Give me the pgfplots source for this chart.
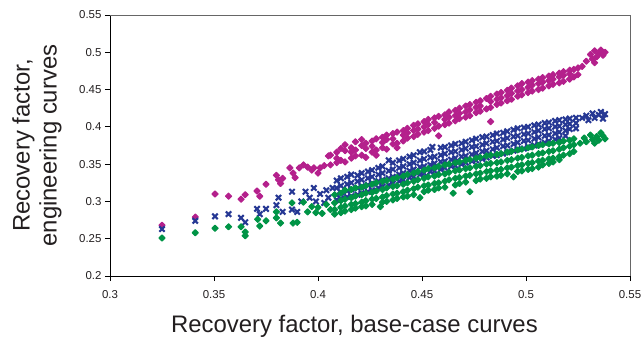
\documentclass[border=0pt]{standalone}
\usepackage{fontspec}
\setmainfont{Liberation Sans}
\usepackage{pgfplots}
\pgfplotsset{compat=1.18}
\definecolor{cmag}{RGB}{180,32,140}
\definecolor{cblue}{RGB}{38,56,148}
\definecolor{cgreen}{RGB}{0,148,70}
\definecolor{ctext}{RGB}{35,31,32}
\pgfdeclareplotmark{thickx}{%
  \pgfsetlinewidth{2.1bp}%
  \pgfsetstrokecolor{cblue}%
  \pgfpathmoveto{\pgfqpoint{-\pgfplotmarksize}{-\pgfplotmarksize}}%
  \pgfpathlineto{\pgfqpoint{\pgfplotmarksize}{\pgfplotmarksize}}%
  \pgfpathmoveto{\pgfqpoint{-\pgfplotmarksize}{\pgfplotmarksize}}%
  \pgfpathlineto{\pgfqpoint{\pgfplotmarksize}{-\pgfplotmarksize}}%
  \pgfusepathqstroke}
\begin{document}
\begin{tikzpicture}
\useasboundingbox (-110bp,-62bp) rectangle (533bp,276bp);
\begin{axis}[
  scale only axis, width=520bp, height=261bp,
  xmin=0.3, xmax=0.55, ymin=0.2, ymax=0.55,
  xtick={0.3,0.35,0.4,0.45,0.5,0.55},
  ytick={0.2,0.25,0.3,0.35,0.4,0.45,0.5,0.55},
  scaled ticks=false,
  axis lines=left, axis line style={-, line width=0.9bp, black},
  tick align=outside, major tick length=5bp,
  tick style={line width=0.8bp, black},
  /pgf/number format/assume math mode=true,
  ticklabel style={font=\fontsize{11.5}{13}\selectfont, text=ctext},
  xticklabel style={yshift=-6bp},
  xlabel={Recovery factor, base-case curves},
  ylabel={Recovery factor,\\engineering curves},
  label style={font=\fontsize{24}{27}\selectfont, text=ctext},
  xlabel style={at={(axis description cs:0.470,0)}, anchor=base, yshift=-56bp},
  ylabel style={at={(axis description cs:0,0.5)}, anchor=center, rotate=0, yshift=73bp, align=center},
  clip=false,
  magmark/.style={only marks, color=cmag, mark=square*, mark size=2.2bp, mark options={rotate=45, solid, fill=cmag, draw=cmag, line width=1.0bp, line join=round}},
  grnmark/.style={only marks, color=cgreen, mark=square*, mark size=2.2bp, mark options={rotate=45, solid, fill=cgreen, draw=cgreen, line width=1.0bp, line join=round}},
  blumark/.style={only marks, color=cblue, mark=thickx, mark size=2.7bp, mark options={solid, draw=cblue}},
]
\draw[black!60, line width=0.8bp] (rel axis cs:0,1) -- (rel axis cs:1,1) -- (rel axis cs:1,0);
% magenta
\addplot[magmark] coordinates {
(0.325,0.268)(0.341,0.279)(0.3505,0.310)(0.357,0.307)(0.363,0.303)(0.365,0.309)(0.3707,0.314)(0.372,0.307)(0.375,0.323)
(0.380,0.335)(0.381,0.329)(0.382,0.324)(0.383,0.331)(0.3865,0.345)(0.388,0.338)(0.389,0.332)(0.391,0.345)(0.393,0.349)(0.395,0.346)
(0.397,0.342)(0.398,0.345)(0.401,0.345)(0.400,0.338)(0.403,0.348)(0.405,0.361)
(0.406,0.362)(0.406,0.349)
(0.409,0.366)(0.409,0.352)(0.409,0.358)
(0.411,0.371)(0.411,0.355)
(0.413,0.368)(0.413,0.353)(0.413,0.376)
(0.416,0.372)(0.416,0.358)(0.416,0.366)
(0.418,0.380)(0.418,0.361)(0.418,0.369)
(0.421,0.375)(0.421,0.362)(0.421,0.383)
(0.423,0.371)(0.423,0.359)(0.423,0.378)
(0.426,0.381)(0.426,0.366)(0.426,0.374)
(0.428,0.384)(0.428,0.369)(0.428,0.362)
(0.431,0.386)(0.431,0.372)(0.431,0.379)
(0.433,0.383)(0.433,0.370)(0.433,0.389)
(0.436,0.391)(0.436,0.377)(0.436,0.384)
(0.438,0.393)(0.438,0.378)(0.438,0.372)
(0.441,0.395)(0.441,0.381)(0.441,0.389)
(0.443,0.398)(0.443,0.385)(0.443,0.392)
(0.446,0.402)(0.446,0.387)(0.446,0.395)
(0.448,0.404)(0.448,0.390)(0.448,0.397)
(0.451,0.407)(0.451,0.393)(0.451,0.400)
(0.453,0.410)(0.453,0.395)(0.453,0.403)
(0.456,0.412)(0.456,0.398)(0.456,0.406)
(0.458,0.414)(0.458,0.401)(0.458,0.388)
(0.461,0.416)(0.461,0.403)(0.461,0.410)
(0.463,0.420)(0.463,0.405)(0.463,0.413)
(0.466,0.422)(0.466,0.408)(0.466,0.415)
(0.468,0.425)(0.468,0.411)(0.468,0.418)
(0.471,0.428)(0.471,0.413)(0.471,0.420)
(0.473,0.430)(0.473,0.415)(0.473,0.423)
(0.476,0.433)(0.476,0.419)(0.476,0.426)
(0.478,0.435)(0.478,0.421)(0.478,0.428)
(0.481,0.438)(0.481,0.424)(0.483,0.407)
(0.483,0.441)(0.483,0.426)(0.483,0.434)
(0.486,0.444)(0.486,0.430)(0.486,0.437)
(0.488,0.446)(0.488,0.432)(0.488,0.439)
(0.491,0.449)(0.491,0.435)(0.491,0.442)
(0.493,0.452)(0.493,0.437)(0.493,0.445)
(0.496,0.455)(0.496,0.441)(0.496,0.448)
(0.498,0.458)(0.498,0.443)(0.498,0.450)
(0.501,0.460)(0.501,0.446)(0.501,0.453)
(0.503,0.462)(0.503,0.448)(0.503,0.456)
(0.506,0.464)(0.506,0.450)(0.506,0.458)
(0.508,0.466)(0.508,0.452)(0.508,0.460)
(0.511,0.468)(0.511,0.455)(0.511,0.462)
(0.513,0.470)(0.513,0.457)(0.513,0.464)
(0.516,0.472)(0.516,0.459)(0.516,0.467)
(0.518,0.474)(0.518,0.461)(0.518,0.469)
(0.521,0.476)(0.521,0.464)(0.521,0.471)
(0.523,0.477)(0.523,0.467)
(0.525,0.479)(0.525,0.470)
(0.527,0.481)
(0.529,0.488)(0.531,0.497)(0.532,0.491)(0.533,0.502)(0.534,0.494)(0.535,0.498)(0.536,0.503)(0.537,0.496)(0.538,0.500)(0.533,0.486)
};
% blue
\addplot[blumark] coordinates {
(0.325,0.263)(0.341,0.274)(0.3505,0.280)(0.357,0.283)(0.363,0.278)(0.365,0.272)(0.3707,0.290)(0.372,0.283)(0.375,0.290)
(0.380,0.295)(0.381,0.305)(0.383,0.286)(0.3875,0.313)(0.3875,0.289)(0.390,0.286)(0.394,0.313)(0.392,0.300)(0.396,0.305)
(0.398,0.318)(0.399,0.300)(0.401,0.310)(0.403,0.298)(0.404,0.315)(0.405,0.305)(0.407,0.318)
(0.409,0.328)(0.409,0.318)(0.409,0.309)(0.409,0.302)
(0.411,0.331)(0.411,0.321)(0.411,0.312)(0.411,0.304)
(0.414,0.333)(0.414,0.323)(0.414,0.314)(0.414,0.306)
(0.416,0.336)(0.416,0.325)(0.416,0.316)(0.416,0.307)
(0.419,0.335)(0.419,0.327)(0.419,0.318)(0.419,0.309)
(0.421,0.338)(0.421,0.329)(0.421,0.320)(0.421,0.311)
(0.424,0.340)(0.424,0.331)(0.424,0.322)(0.424,0.313)
(0.426,0.342)(0.426,0.333)(0.426,0.324)(0.426,0.315)
(0.429,0.345)(0.429,0.336)(0.429,0.327)(0.429,0.318)
(0.431,0.347)(0.431,0.338)(0.431,0.329)(0.431,0.320)
(0.434,0.355)(0.434,0.341)(0.434,0.331)(0.434,0.322)
(0.436,0.352)(0.436,0.343)(0.436,0.333)(0.436,0.324)
(0.439,0.355)(0.439,0.345)(0.439,0.336)(0.439,0.327)
(0.441,0.357)(0.441,0.347)(0.441,0.338)(0.441,0.329)
(0.444,0.360)(0.444,0.350)(0.444,0.341)(0.444,0.332)
(0.446,0.362)(0.446,0.352)(0.446,0.343)(0.446,0.333)
(0.449,0.366)(0.449,0.355)(0.449,0.346)(0.449,0.336)
(0.451,0.367)(0.451,0.357)(0.451,0.347)(0.451,0.338)
(0.454,0.369)(0.454,0.359)(0.454,0.349)(0.454,0.340)
(0.455,0.373)(0.456,0.360)(0.456,0.351)(0.456,0.341)
(0.459,0.372)(0.459,0.362)(0.459,0.353)(0.459,0.343)
(0.461,0.373)(0.461,0.364)(0.461,0.354)(0.461,0.345)
(0.464,0.375)(0.464,0.366)(0.464,0.356)(0.464,0.347)
(0.466,0.377)(0.466,0.367)(0.466,0.358)(0.466,0.348)
(0.469,0.378)(0.469,0.369)(0.469,0.360)(0.469,0.350)
(0.471,0.380)(0.471,0.371)(0.471,0.361)(0.471,0.352)
(0.474,0.382)(0.474,0.373)(0.474,0.363)(0.474,0.354)
(0.476,0.384)(0.476,0.374)(0.476,0.365)(0.476,0.355)
(0.479,0.386)(0.479,0.376)(0.479,0.367)(0.479,0.357)
(0.481,0.387)(0.481,0.378)(0.481,0.368)(0.481,0.359)
(0.484,0.389)(0.484,0.380)(0.484,0.370)(0.484,0.361)
(0.486,0.391)(0.486,0.381)(0.486,0.372)(0.486,0.362)
(0.489,0.392)(0.489,0.383)(0.489,0.374)(0.489,0.364)
(0.491,0.394)(0.491,0.385)(0.491,0.375)(0.491,0.366)
(0.494,0.396)(0.494,0.387)(0.494,0.377)(0.494,0.368)
(0.496,0.398)(0.496,0.388)(0.496,0.379)(0.496,0.370)
(0.499,0.399)(0.499,0.390)(0.499,0.381)(0.499,0.371)
(0.501,0.400)(0.501,0.391)(0.501,0.382)(0.501,0.373)
(0.504,0.402)(0.504,0.393)(0.504,0.384)(0.504,0.375)
(0.506,0.403)(0.506,0.395)(0.506,0.386)(0.506,0.377)
(0.509,0.405)(0.509,0.397)(0.509,0.388)(0.509,0.379)
(0.511,0.406)(0.511,0.398)(0.511,0.389)(0.511,0.381)
(0.514,0.408)(0.514,0.400)(0.514,0.391)(0.514,0.383)
(0.516,0.409)(0.516,0.401)(0.516,0.393)(0.516,0.385)
(0.519,0.410)(0.519,0.403)(0.519,0.395)(0.519,0.388)
(0.521,0.411)(0.521,0.404)(0.521,0.397)
(0.524,0.412)(0.524,0.405)(0.524,0.398)
(0.527,0.412)(0.529,0.415)(0.530,0.409)(0.532,0.418)(0.533,0.412)(0.535,0.416)(0.536,0.420)(0.537,0.411)(0.538,0.417)
};
% green
\addplot[grnmark] coordinates {
(0.325,0.251)(0.341,0.258)(0.3505,0.264)(0.357,0.266)(0.363,0.266)(0.365,0.259)(0.365,0.254)(0.371,0.276)(0.372,0.267)(0.375,0.274)
(0.380,0.286)(0.380,0.278)(0.382,0.271)(0.3875,0.298)(0.388,0.271)(0.390,0.272)(0.393,0.299)(0.395,0.286)(0.397,0.293)(0.399,0.285)
(0.400,0.292)(0.402,0.284)(0.404,0.296)(0.406,0.289)
(0.408,0.309)(0.408,0.298)(0.408,0.289)(0.408,0.283)
(0.411,0.311)(0.411,0.301)(0.411,0.292)(0.411,0.285)
(0.413,0.315)(0.413,0.303)(0.413,0.294)(0.413,0.287)
(0.416,0.316)(0.416,0.305)(0.416,0.296)(0.416,0.289)
(0.418,0.318)(0.418,0.307)(0.418,0.297)(0.418,0.291)
(0.421,0.319)(0.421,0.309)(0.421,0.299)(0.421,0.293)
(0.423,0.321)(0.423,0.311)(0.423,0.301)(0.423,0.294)
(0.426,0.323)(0.426,0.312)(0.426,0.303)(0.426,0.296)
(0.428,0.325)(0.428,0.314)(0.428,0.304)(0.430,0.293)
(0.431,0.327)(0.431,0.316)(0.431,0.306)(0.431,0.299)
(0.433,0.328)(0.433,0.318)(0.433,0.308)(0.433,0.300)
(0.436,0.330)(0.436,0.320)(0.436,0.310)(0.436,0.302)
(0.438,0.332)(0.438,0.321)(0.438,0.311)(0.438,0.304)
(0.441,0.334)(0.441,0.323)(0.441,0.313)(0.441,0.306)
(0.443,0.336)(0.443,0.325)(0.443,0.315)(0.443,0.307)
(0.446,0.338)(0.446,0.327)(0.446,0.317)(0.446,0.309)
(0.448,0.340)(0.448,0.329)(0.448,0.319)(0.449,0.305)
(0.451,0.342)(0.451,0.331)(0.451,0.321)(0.451,0.313)
(0.453,0.344)(0.453,0.333)(0.453,0.322)(0.453,0.315)
(0.456,0.345)(0.456,0.334)(0.456,0.324)(0.456,0.316)
(0.458,0.347)(0.458,0.336)(0.458,0.325)(0.458,0.318)
(0.461,0.349)(0.461,0.337)(0.461,0.327)(0.461,0.319)
(0.463,0.350)(0.463,0.339)(0.463,0.329)(0.465,0.311)
(0.466,0.352)(0.466,0.341)(0.466,0.331)(0.466,0.322)
(0.468,0.353)(0.468,0.342)(0.468,0.332)(0.468,0.324)
(0.471,0.355)(0.471,0.344)(0.471,0.334)(0.471,0.326)
(0.473,0.356)(0.473,0.345)(0.473,0.335)(0.473,0.313)
(0.476,0.358)(0.476,0.347)(0.476,0.337)(0.476,0.328)
(0.478,0.359)(0.478,0.348)(0.478,0.338)(0.478,0.330)
(0.481,0.361)(0.481,0.350)(0.481,0.340)(0.481,0.331)
(0.483,0.362)(0.483,0.351)(0.483,0.341)(0.483,0.333)
(0.486,0.363)(0.486,0.352)(0.486,0.342)(0.486,0.334)
(0.488,0.364)(0.488,0.353)(0.488,0.343)(0.488,0.335)
(0.491,0.366)(0.491,0.355)(0.491,0.345)(0.491,0.337)
(0.493,0.367)(0.493,0.356)(0.493,0.346)(0.494,0.333)
(0.496,0.369)(0.496,0.358)(0.496,0.348)(0.496,0.340)
(0.498,0.370)(0.498,0.359)(0.498,0.349)(0.498,0.341)
(0.501,0.372)(0.501,0.361)(0.501,0.351)(0.501,0.343)
(0.503,0.373)(0.503,0.362)(0.503,0.352)(0.503,0.344)
(0.506,0.375)(0.506,0.364)(0.506,0.354)(0.506,0.346)
(0.508,0.376)(0.508,0.365)(0.508,0.355)(0.508,0.349)
(0.511,0.377)(0.511,0.367)(0.511,0.357)(0.511,0.351)
(0.513,0.378)(0.513,0.368)(0.513,0.358)(0.513,0.353)
(0.516,0.379)(0.516,0.370)(0.516,0.360)(0.516,0.356)
(0.518,0.381)(0.518,0.372)(0.518,0.362)
(0.521,0.382)(0.521,0.374)(0.521,0.364)
(0.523,0.384)(0.523,0.376)(0.523,0.367)
(0.526,0.378)(0.528,0.385)(0.529,0.380)(0.531,0.389)(0.532,0.383)(0.533,0.378)(0.534,0.387)(0.535,0.382)(0.537,0.388)(0.538,0.384)(0.536,0.392)
};
\end{axis}
\end{tikzpicture}
\end{document}
